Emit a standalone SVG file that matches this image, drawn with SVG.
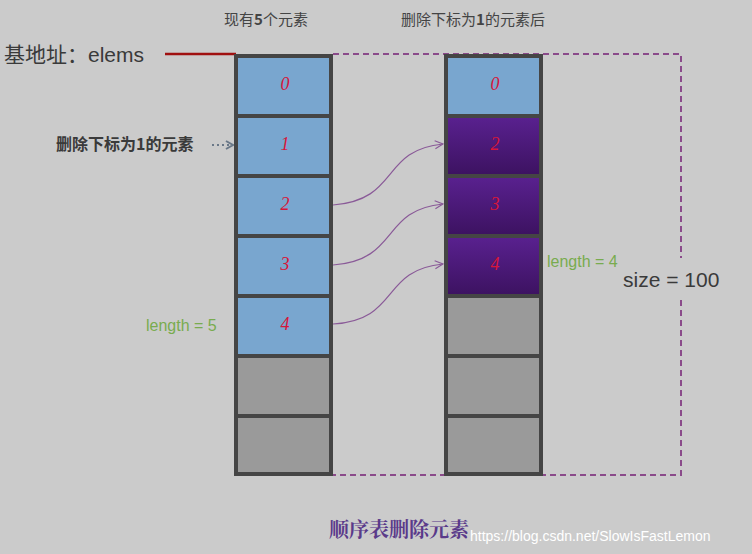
<svg xmlns="http://www.w3.org/2000/svg" width="752" height="554" viewBox="0 0 752 554">
<defs>
<linearGradient id="pg" x1="0" y1="0" x2="0" y2="1"><stop offset="0" stop-color="#5a2190"/><stop offset="1" stop-color="#3c1260"/></linearGradient>
<marker id="ah" markerWidth="10" markerHeight="10" refX="9" refY="5" orient="auto" markerUnits="userSpaceOnUse"><path d="M1,1 L9,5 L1,9" fill="none" stroke="#8a5a98" stroke-width="1.2"/></marker>
<marker id="ad" markerWidth="10" markerHeight="10" refX="8" refY="5" orient="auto" markerUnits="userSpaceOnUse"><path d="M1,1 L8,5 L1,9" fill="none" stroke="#6a7888" stroke-width="2"/></marker>
</defs>
<style>
.c{stroke:#454545;stroke-width:4}
.b{fill:#79a6cf}.g{fill:#9a9a9a}.p{fill:url(#pg)}
.n{font-family:"Liberation Serif",serif;font-style:italic;font-size:18px;fill:#d6163a;text-anchor:middle}
.t{font-family:"Noto Sans CJK SC",sans-serif;font-size:15px;fill:#444}
.gr{font-family:"Liberation Sans",sans-serif;font-size:16px;fill:#79ab4f}
</style>
<rect width="752" height="554" fill="#cbcbcb"/>
<g id="connectors">
<line x1="165" y1="54" x2="236" y2="54" stroke="#a01010" stroke-width="2.5"/>
<path d="M333,54 H681 V258 M681,300 V475 H333" fill="none" stroke="#8a4a8a" stroke-width="2" stroke-dasharray="6,4"/>
<line x1="212" y1="145" x2="233" y2="145" stroke="#6a7888" stroke-width="2" stroke-dasharray="2,3" marker-end="url(#ad)"/>
<path d="M333,205 C400,200 380,150 443,144" fill="none" stroke="#8a5a98" stroke-width="1.2" marker-end="url(#ah)"/>
<path d="M333,265 C400,260 380,210 443,204" fill="none" stroke="#8a5a98" stroke-width="1.2" marker-end="url(#ah)"/>
<path d="M333,324 C400,320 380,270 443,264" fill="none" stroke="#8a5a98" stroke-width="1.2" marker-end="url(#ah)"/>
</g>
<g id="left">
<rect class="c b" x="236" y="56" width="95" height="60"/>
<rect class="c b" x="236" y="116" width="95" height="60"/>
<rect class="c b" x="236" y="176" width="95" height="60"/>
<rect class="c b" x="236" y="236" width="95" height="60"/>
<rect class="c b" x="236" y="296" width="95" height="60"/>
<rect class="c g" x="236" y="356" width="95" height="60"/>
<rect class="c g" x="236" y="416" width="95" height="58"/>
<text class="n" x="285" y="90">0</text><text class="n" x="285" y="150">1</text><text class="n" x="285" y="210">2</text><text class="n" x="285" y="270">3</text><text class="n" x="285" y="330">4</text>
</g>
<g id="right">
<rect class="c b" x="446" y="56" width="95" height="60"/>
<rect class="c p" x="446" y="116" width="95" height="60"/>
<rect class="c p" x="446" y="176" width="95" height="60"/>
<rect class="c p" x="446" y="236" width="95" height="60"/>
<rect class="c g" x="446" y="296" width="95" height="60"/>
<rect class="c g" x="446" y="356" width="95" height="60"/>
<rect class="c g" x="446" y="416" width="95" height="58"/>
<text class="n" x="495" y="90">0</text><text class="n" x="495" y="150">2</text><text class="n" x="495" y="210">3</text><text class="n" x="495" y="270">4</text>
</g>
<g id="labels">
<text class="t" x="224" y="25">现有<tspan font-weight="bold">5</tspan>个元素</text>
<text class="t" x="401" y="25">删除下标为<tspan font-weight="bold">1</tspan>的元素后</text>
<text x="4" y="62" font-family="Liberation Sans,'Noto Sans CJK SC',sans-serif" font-size="21" fill="#3a3a3a">基地址：elems</text>
<text x="56" y="150" font-family="'Noto Sans CJK SC',sans-serif" font-size="16" font-weight="bold" fill="#3a3a3a">删除下标为1的元素</text>
<text class="gr" x="146" y="331">length = 5</text>
<text class="gr" x="547" y="267">length = 4</text>
<text x="623" y="287" font-family="Liberation Sans,sans-serif" font-size="21" fill="#3a3a3a">size = 100</text>
<text x="329" y="537" font-family="'Noto Serif CJK SC','Noto Sans CJK SC',serif" font-size="20" font-weight="bold" fill="#5a3a8a">顺序表删除元素</text>
<text x="470" y="541" font-family="Liberation Sans,sans-serif" font-size="14" fill="#ffffff">https://blog.csdn.net/SlowIsFastLemon</text>
</g>
</svg>
